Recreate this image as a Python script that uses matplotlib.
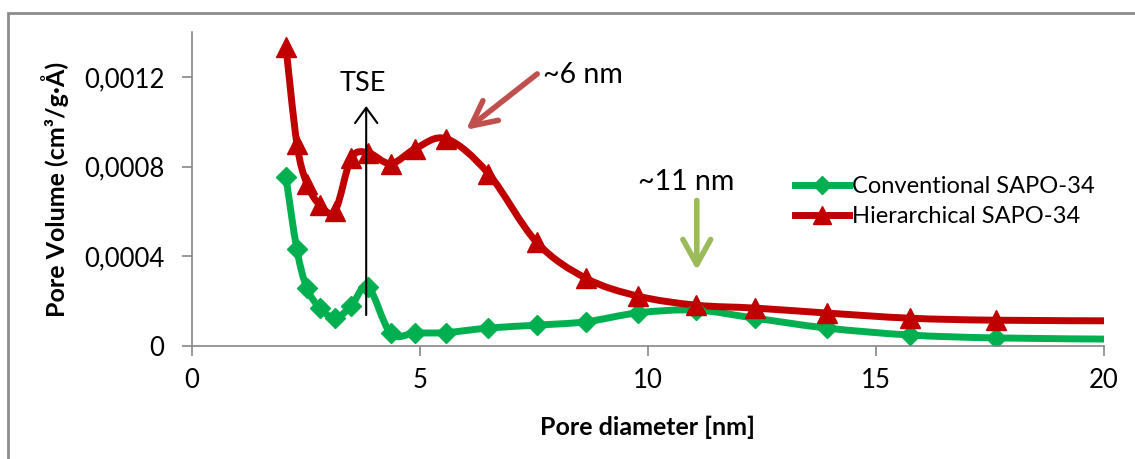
import numpy as np
import matplotlib.pyplot as plt
from matplotlib.path import Path
from matplotlib.patches import PathPatch, Rectangle
from matplotlib.lines import Line2D

plt.rcParams['font.family'] = ['Lato', 'DejaVu Sans']

# Pore diameter (nm), shared by both samples (last point lies past the axis end)
diameter = [2.06, 2.30, 2.52, 2.81, 3.14, 3.49, 3.86, 4.36, 4.90, 5.58, 6.50,
            7.56, 8.64, 9.79, 11.06, 12.35, 13.92, 15.74, 17.63, 20.6]

# Pore volume (cm3/g.A)
conventional = [0.000752, 0.000431, 0.000258, 0.000169, 0.000124, 0.000178,
                0.000264, 0.000056, 0.000058, 0.000060, 0.000080, 0.000093,
                0.000108, 0.000148, 0.000160, 0.000124, 0.000080, 0.000049,
                0.000036, 0.000030]
hierarchical = [0.001335, 0.000902, 0.000724, 0.000627, 0.000604, 0.000836,
                0.000862, 0.000813, 0.000880, 0.000924, 0.000769, 0.000462,
                0.000302, 0.000222, 0.000182, 0.000169, 0.000147, 0.000124,
                0.000115, 0.000112]

series_names = ['Conventional SAPO-34', 'Hierarchical SAPO-34']
xticks = [0, 5, 10, 15, 20]
yticks = [0, 0.0004, 0.0008, 0.0012]
ytick_labels = ['0', '0,0004', '0,0008', '0,0012']

green = '#00B050'
red = '#C00000'
axis_gray = '#868686'


def smooth_path(xs, ys):
    # Excel-like smoothed line (Catmull-Rom through the points)
    p = np.column_stack([xs, ys])
    n = len(p)
    verts = [p[0]]
    codes = [Path.MOVETO]
    for i in range(n - 1):
        p0 = p[i - 1] if i > 0 else p[i]
        p3 = p[i + 2] if i + 2 < n else p[i + 1]
        c1 = p[i] + (p[i + 1] - p0) / 6
        c2 = p[i + 1] - (p3 - p[i]) / 6
        verts += [c1, c2, p[i + 1]]
        codes += [Path.CURVE4] * 3
    return Path(verts, codes)


fig = plt.figure(figsize=(11.35, 4.59), dpi=100)
ax = fig.add_axes([192 / 1135, 1 - 346 / 459, 912 / 1135, 314 / 459])

# outer chart border
fig.patches.append(Rectangle((8 / 1135, -0.1), 1.2, 1 - 13 / 459 + 0.1,
                             transform=fig.transFigure, fill=False,
                             edgecolor='#8c8c8c', lw=2))

lw = 5
for ys, color in [(conventional, green), (hierarchical, red)]:
    ax.add_patch(PathPatch(smooth_path(diameter, ys), fill=False,
                           edgecolor=color, lw=lw, capstyle='butt',
                           joinstyle='round'))
ax.plot(diameter, conventional, 'D', color=green, ms=10, ls='none')
ax.plot(diameter, hierarchical, '^', color=red, ms=15, ls='none')

ax.set_xlim(0, 20)
ax.set_ylim(0, 0.0014)
ax.set_xticks(xticks)
ax.set_xticklabels([str(v) for v in xticks])
ax.set_yticks(yticks)
ax.set_yticklabels(ytick_labels)

for s in ['top', 'right']:
    ax.spines[s].set_visible(False)
for s in ['left', 'bottom']:
    ax.spines[s].set_color(axis_gray)
    ax.spines[s].set_linewidth(1.2)
ax.tick_params(axis='both', direction='out', length=7, width=1.2,
               color=axis_gray, labelsize=18.5)
ax.tick_params(axis='y', pad=13)
ax.tick_params(axis='x', pad=9)

fig.text(55 / 1135, 1 - 189 / 459, 'Pore Volume (cm³/g·Å)', rotation=90,
         ha='center', va='center', fontsize=18, fontweight='bold')
fig.text(648 / 1135, 1 - 427 / 459, 'Pore diameter [nm]',
         ha='center', va='center', fontsize=18, fontweight='bold')

# annotations
ax.annotate('', xy=(3.82, 0.00107), xytext=(3.82, 0.000138),
            arrowprops=dict(arrowstyle='->, head_length=0.55, head_width=0.4',
                            lw=1.5, color='black', mutation_scale=20,
                            shrinkA=0, shrinkB=0))
ax.text(3.75, 0.00117, 'TSE', ha='center', va='center', fontsize=19.5)

ax.annotate('', xy=(6.01, 0.000964), xytext=(7.57, 0.001213),
            arrowprops=dict(arrowstyle='->, head_length=0.9, head_width=0.45',
                            lw=4, color='#C0504D', mutation_scale=20,
                            shrinkA=0, shrinkB=0))
ax.text(7.70, 0.00121, '~6 nm', ha='left', va='center', fontsize=20.5)

ax.annotate('', xy=(11.07, 0.000338), xytext=(11.07, 0.000649),
            arrowprops=dict(arrowstyle='->, head_length=0.9, head_width=0.5',
                            lw=4, color='#9BBB59', mutation_scale=20,
                            shrinkA=0, shrinkB=0))
ax.text(10.83, 0.00073, '~11 nm', ha='center', va='center', fontsize=20.5)

handles = [Line2D([], [], color=green, lw=lw, marker='D', ms=9),
           Line2D([], [], color=red, lw=lw, marker='^', ms=13)]
fig.legend(handles, series_names, loc='center left',
           bbox_to_anchor=(795 / 1135, 1 - 201.5 / 459), frameon=False,
           borderpad=0, borderaxespad=0, handlelength=2.3, handletextpad=0.1,
           labelspacing=0.4, fontsize=17)

fig.savefig('out.png', dpi=100)
